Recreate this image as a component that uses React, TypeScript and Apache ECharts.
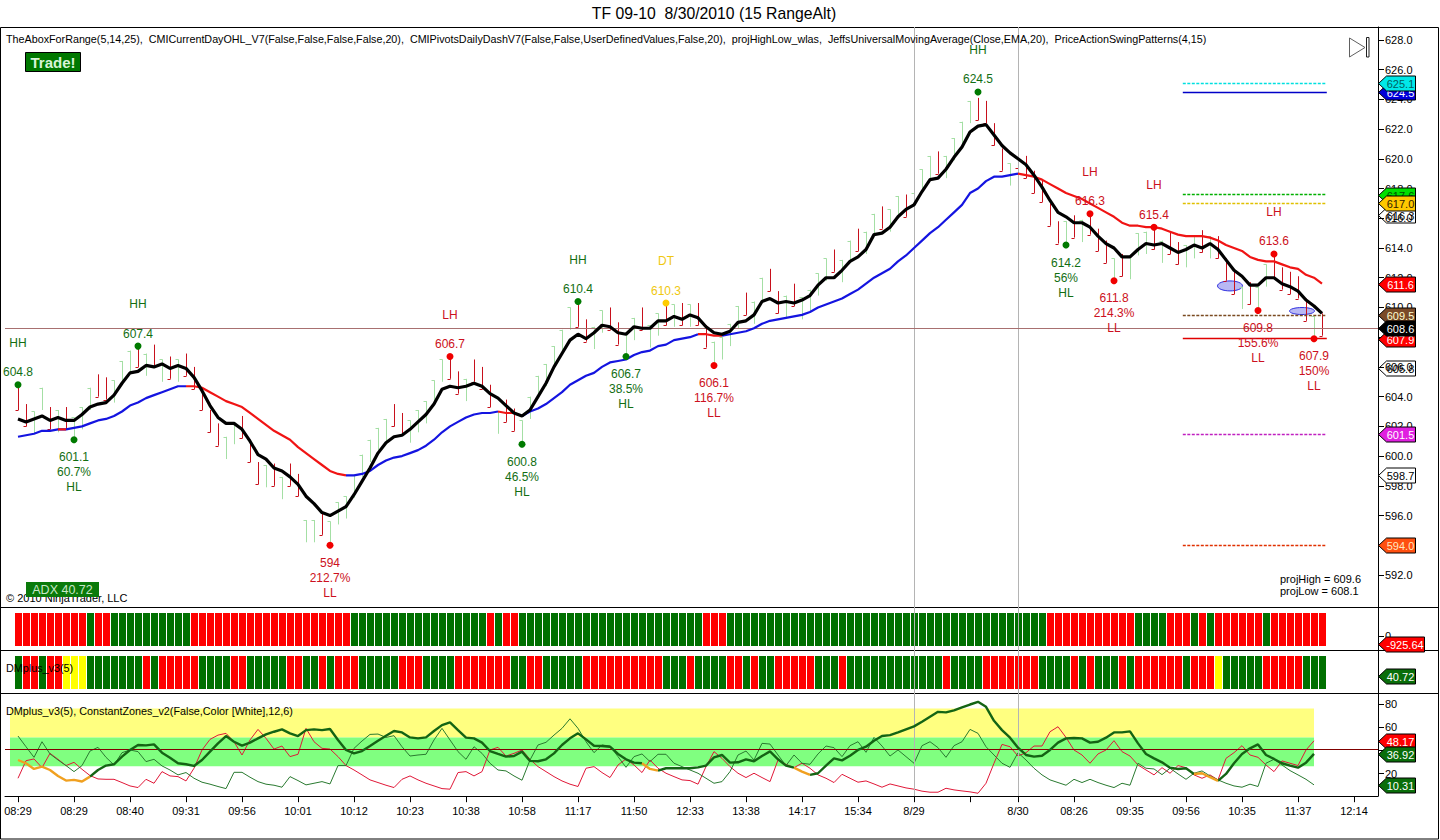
import React, { useEffect, useRef } from "react";
import * as echarts from "echarts";

// ---------- data ----------
const barHighs = [
  604.6,603.5,603.0,604.6,603.3,603.1,603.3,602.6,603.3,604.6,
  605.5,605.3,605.1,606.4,607.1,607.5,606.9,607.5,606.5,606.7,
  606.5,606.9,606.0,604.6,603.1,602.2,601.3,602.3,602.7,601.1,
  599.6,599.4,599.5,598.6,599.5,598.8,595.7,595.7,596.2,595.6,
  596.9,597.3,598.7,600.1,601.1,601.9,602.5,603.5,602.9,602.4,
  603.1,603.7,605.1,606.5,606.7,605.7,605.2,606.5,606.0,604.8,
  603.0,603.8,603.2,602.4,604.0,605.4,606.2,607.4,608.5,610.0,
  610.2,609.2,608.7,609.8,610.0,609.0,608.2,609.3,610.0,608.8,
  609.6,610.3,610.2,610.3,610.2,610.3,608.8,607.7,608.0,608.9,
  610.1,611.0,610.4,612.0,612.6,611.1,610.8,611.6,610.7,611.2,
  612.3,613.3,613.9,613.2,614.5,615.3,615.1,616.3,616.8,616.6,
  617.5,617.6,617.7,619.3,620.2,620.5,620.2,621.4,622.5,623.9,
  624.1,623.9,622.4,620.7,619.7,620.9,620.2,619.2,618.6,617.0,
  615.8,615.8,616.2,615.9,616.4,615.3,614.5,613.3,613.6,613.4,
  615.0,615.1,615.4,614.5,615.1,614.4,614.2,614.8,615.2,614.8,
  614.8,613.3,612.4,611.4,611.7,611.4,612.9,613.5,612.7,612.4,
  612.1,610.6,609.4,609.6,
];
const barDirs =
  "RRGGRGRGGG" + "RRGGGRGRGR" + "GRRRRRGGRR" + "RGRGRRGGRG" + "GGGGGGGRRG" +
  "GGGGRRGRRR" + "GRRGGGGGGG" + "RRGGRRGGRG" + "GRGRGRRGGG" + "GRGGRRGRGG" +
  "GGRGGRGGRG" + "GRGGGRGGGG" + "RRRRGRRRRR" + "RGRGRRRGRG" + "GGRGRRGGRG" +
  "RRRGRGGRRR" + "RRGR";
const barRange = 1.5;

const fastAverage = [
  602.5,602.3,602.5,602.7,602.4,602.6,602.4,602.4,602.8,603.3,
  603.5,603.6,604.1,604.9,605.6,605.7,606.1,606.0,606.2,605.9,
  606.1,605.9,605.3,604.4,603.4,602.6,602.2,602.2,601.8,601.0,
  600.1,599.8,599.2,599.0,598.6,598.1,597.3,596.8,596.2,596.0,
  596.3,596.6,597.4,598.3,599.2,600.2,600.9,601.3,601.4,601.8,
  602.3,602.8,603.5,604.5,604.7,604.6,604.7,604.9,604.7,604.2,
  603.9,603.4,602.9,602.7,603.1,604.0,604.9,606.0,606.9,607.8,
  608.2,607.9,608.3,608.8,608.7,608.3,608.2,608.7,608.6,608.6,
  609.1,609.1,609.4,609.2,609.5,609.3,608.7,608.3,608.2,608.4,
  609.0,609.1,609.5,610.4,610.6,610.3,610.4,610.3,610.5,610.8,
  611.5,612.0,612.0,612.5,613.1,613.4,613.9,614.9,615.0,615.4,
  616.1,616.6,616.9,617.8,618.6,618.7,619.3,620.1,620.8,621.8,
  622.2,622.3,621.6,620.9,620.4,620.0,619.6,618.9,618.1,617.2,
  616.4,616.1,615.7,615.7,615.4,614.8,614.3,614.0,613.4,613.4,
  613.9,614.3,614.2,614.3,614.0,613.7,613.9,614.2,614.0,614.3,
  613.9,613.2,612.5,612.1,611.5,611.5,612.0,612.0,611.6,611.4,
  611.1,610.5,610.1,609.6,
];
const slowAverage = [
  601.3,601.4,601.5,601.7,601.7,601.8,601.8,601.9,602.0,602.2,
  602.4,602.5,602.7,603.0,603.4,603.6,603.9,604.1,604.3,604.5,
  604.7,604.7,604.7,604.6,604.3,604.0,603.7,603.5,603.3,602.9,
  602.5,602.1,601.7,601.4,601.1,600.6,600.2,599.8,599.4,599.0,
  598.8,598.7,598.7,598.8,599.0,599.4,599.7,599.9,600.0,600.2,
  600.4,600.7,601.1,601.6,602.0,602.3,602.6,602.8,602.9,602.9,
  603.0,602.9,602.9,602.7,603.0,603.2,603.5,603.9,604.3,604.8,
  605.1,605.4,605.6,606.0,606.3,606.4,606.5,606.8,607.0,607.1,
  607.4,607.5,607.8,607.9,608.0,608.2,608.2,608.1,608.1,608.2,
  608.3,608.4,608.6,608.9,609.1,609.2,609.3,609.4,609.5,609.7,
  610.0,610.2,610.4,610.6,610.9,611.2,611.6,612.0,612.3,612.6,
  613.1,613.5,614.0,614.5,615.0,615.4,615.9,616.4,616.9,617.7,
  618.0,618.5,618.8,618.8,618.9,619.0,618.9,618.8,618.6,618.3,
  618.0,617.7,617.5,617.3,617.0,616.7,616.4,616.1,615.7,615.5,
  615.5,615.4,615.4,615.3,615.1,614.9,614.8,614.8,614.8,614.7,
  614.5,614.2,614.0,613.8,613.4,613.2,613.1,613.1,612.9,612.7,
  612.6,612.2,612.0,611.6,
];
const slowFallingRanges = [[5, 6], [21, 41], [60, 63], [85, 88], [125, 163]];

const adxValues = [
  31.7,28.9,24.0,26.0,23.1,18.0,14.0,14.6,13.2,17.4,
  23.1,26.9,28.0,34.6,40.3,44.6,44.3,45.1,38.0,33.7,
  28.9,28.0,26.6,31.7,38.9,46.0,52.3,47.4,44.0,46.6,
  50.3,53.7,56.0,58.0,54.6,52.3,57.4,58.0,57.4,58.3,
  48.9,40.3,37.4,39.4,43.7,48.3,52.6,56.6,55.4,51.1,
  50.3,51.1,56.6,61.7,64.0,57.4,50.9,50.3,46.6,39.4,
  36.9,34.6,35.1,38.9,30.9,30.6,32.3,37.4,44.6,50.3,
  54.6,49.4,44.0,43.7,43.1,36.9,32.3,29.4,28.9,24.0,
  22.6,24.6,24.6,24.6,24.6,25.4,26.9,34.0,36.0,29.4,
  29.7,32.3,30.6,35.1,39.1,32.3,26.9,25.1,21.7,18.9,
  20.3,26.9,33.1,31.4,35.4,40.3,43.1,48.3,52.3,53.1,
  55.4,58.0,60.6,64.6,68.9,73.1,72.6,74.3,76.9,79.4,
  81.7,77.4,65.4,57.4,50.9,42.3,36.0,34.6,35.4,40.3,
  46.6,50.3,50.6,50.3,46.6,47.4,50.9,55.4,55.4,56.3,
  46.0,36.9,33.1,29.7,25.1,24.0,24.6,19.7,20.3,16.9,
  13.7,19.7,28.9,36.9,41.7,45.1,36.0,32.6,28.9,26.9,
  25.1,29.4,36.92,
];
const adxWeakRanges = [[0, 9], [78, 80], [97, 99], [147, 150]];
const diPlusValues = [
  52.3,43.1,34.0,47.4,36.9,31.7,26.9,21.7,26.9,39.4,
  42.6,34.0,27.4,38.0,40.3,38.9,30.3,32.3,26.6,23.1,
  18.9,20.9,16.0,12.6,10.9,8.9,7.1,21.1,21.1,16.9,
  13.1,10.9,10.0,8.3,17.4,14.0,10.3,11.7,13.1,11.1,
  26.9,26.9,41.7,48.0,53.7,54.0,51.1,52.6,43.1,35.1,
  36.0,36.6,48.9,58.9,48.9,38.9,32.3,43.1,37.4,28.9,
  23.1,22.3,18.0,14.3,31.7,44.6,46.9,53.1,58.9,67.1,
  58.9,47.4,38.0,44.6,43.7,34.6,25.4,34.6,36.9,30.3,
  36.6,36.6,28.9,26.0,23.1,20.3,16.0,11.7,13.1,21.7,
  36.0,39.4,31.7,46.0,45.4,36.0,26.9,36.0,28.9,28.0,
  36.9,43.7,42.3,34.6,44.0,47.4,38.3,51.1,43.7,35.1,
  40.3,34.6,28.9,44.0,47.4,42.3,34.0,44.0,47.4,58.0,
  54.6,43.1,36.0,28.9,25.4,38.0,31.7,24.6,18.9,14.6,
  12.3,10.0,15.1,12.3,15.1,12.3,10.0,8.0,11.7,10.0,
  28.9,24.6,24.0,19.1,24.6,19.7,15.1,20.3,22.3,18.0,
  14.6,11.7,9.4,8.3,10.9,8.9,28.9,32.3,27.4,22.6,
  18.9,15.1,10.31,
];
const diMinusValues = [
  16.0,31.1,32.6,25.1,37.4,32.3,26.9,29.7,23.7,18.3,
  15.4,15.1,15.1,12.3,9.4,8.0,15.1,11.7,21.7,18.0,
  17.4,13.7,24.6,40.3,49.4,53.1,54.6,47.4,36.0,48.9,
  58.0,50.3,41.1,43.7,34.6,36.6,58.9,47.4,41.7,41.1,
  34.6,26.9,23.1,18.9,14.6,12.3,10.0,8.0,15.1,18.0,
  14.6,11.7,9.4,7.1,6.6,20.9,21.7,18.0,21.7,40.3,
  42.6,35.1,37.4,40.3,32.3,26.0,21.7,17.4,13.7,10.9,
  8.9,24.6,26.0,20.9,16.6,27.4,32.6,27.4,20.9,31.7,
  24.6,20.3,17.4,14.6,14.0,10.9,26.0,38.9,33.1,26.0,
  20.3,16.6,20.3,16.6,13.1,31.7,28.0,25.1,28.9,24.6,
  18.9,16.0,12.3,19.4,16.0,12.6,13.7,11.1,8.3,11.1,
  9.4,7.7,6.6,4.9,4.0,4.0,7.4,6.0,5.1,4.3,
  3.1,11.7,28.9,45.1,43.1,35.1,38.0,43.7,43.7,56.0,
  60.3,51.1,40.3,36.0,28.9,36.9,40.3,48.3,38.9,35.1,
  27.4,23.1,18.9,25.1,20.3,26.9,25.1,18.9,16.0,18.9,
  14.6,33.1,38.0,44.0,36.0,34.0,27.4,21.7,30.9,28.9,
  26.9,40.3,48.17,
];

// [colour key, run length]
const strip1Runs: [string, number][] = [
  ["R",9],["G",1],["R",2],["G",10],["R",20],["G",17],["R",1],["G",1],["R",2],["G",23],
  ["R",3],["G",40],["R",11],["G",4],["R",3],["G",1],["R",1],["G",1],["R",6],["G",1],["R",7],
];
const strip2Runs: [string, number][] = [
  ["G",1],["R",2],["G",1],["R",2],["Y",3],["G",7],["R",1],["G",1],["R",5],["G",4],["R",2],
  ["G",5],["R",2],["G",2],["R",1],["G",1],["R",3],["G",5],["R",3],["G",4],["R",7],["G",2],
  ["R",2],["G",5],["R",10],["G",3],["R",1],["G",4],["R",2],["G",1],["R",1],["G",2],["R",5],
  ["G",3],["R",1],["G",12],["R",1],["G",4],["R",7],["G",4],["R",1],["G",1],["R",1],["G",3],
  ["R",1],["G",1],["R",6],["G",1],["R",3],["Y",1],["G",5],["R",5],["G",3],
];

// swing points: bar index, price, colour key, texts (price first)
const swingPoints: [number, number, string, string[]][] = [
  [0, 604.8, "up", ["604.8", "HH"]],
  [7, 601.1, "up", ["601.1", "60.7%", "HL"]],
  [15, 607.4, "up", ["607.4", "HH"]],
  [39, 594.0, "down", ["594", "212.7%", "LL"]],
  [54, 606.7, "down", ["606.7", "LH"]],
  [63, 600.8, "up", ["600.8", "46.5%", "HL"]],
  [70, 610.4, "up", ["610.4", "HH"]],
  [76, 606.7, "up", ["606.7", "38.5%", "HL"]],
  [81, 610.3, "flat", ["610.3", "DT"]],
  [87, 606.1, "down", ["606.1", "116.7%", "LL"]],
  [120, 624.5, "up", ["624.5", "HH"]],
  [131, 614.2, "up", ["614.2", "56%", "HL"]],
  [134, 616.3, "down", ["616.3", "LH"]],
  [137, 611.8, "down", ["611.8", "214.3%", "LL"]],
  [142, 615.4, "down", ["615.4", "LH"]],
  [155, 609.8, "down", ["609.8", "155.6%", "LL"]],
  [157, 613.6, "down", ["613.6", "LH"]],
  [162, 607.9, "down", ["607.9", "150%", "LL"]],
];

const xTickIndices = [0,7,14,21,28,35,42,49,56,63,70,77,84,91,98,105,112,119,125,132,139,146,153,160,167];
const xTickLabels = ["08:29","08:29","08:40","09:31","09:56","10:01","10:12","10:23","10:38","10:58","11:17","11:50","12:33","13:38","14:17","15:34","8/29","","8/30","08:26","09:35","09:56","10:35","11:37","12:14"];
const sessionBreaks = [112, 125];

const priceTicks = [592,594,596,598,600,602,604,606,608,610,612,614,616,618,620,622,624,626,628];
const oscTicks = [20, 40, 60, 80];

const lastPrice = 608.6;
const projLevels: [number, string, string][] = [
  [625.1, "#00e0e0", "dashed"],
  [624.5, "#0000c8", "solid"],
  [617.6, "#00b000", "dashed"],
  [617.0, "#e0c000", "dashed"],
  [609.5, "#7a4a20", "dashed"],
  [607.9, "#e00000", "solid"],
  [601.5, "#c020c0", "dashed"],
  [594.0, "#e03000", "dashed"],
];
const projSpan = [145.6, 163.6];
const ellipses: [number, number, number, number][] = [
  [151.5, 611.45, 12.5, 5],
  [160.5, 609.76, 12.5, 3.5],
];

// [value, text, background, text colour]
const priceFlags: [number, string, string, string][] = [
  [624.5, "624.5", "#0000d8", "#ffffff"],
  [625.1, "625.1", "#00e8e8", "#006060"],
  [616.2, "616.3", "none", "#000000"],
  [617.6, "617.6", "#00e000", "#005000"],
  [617.0, "617.0", "#ffc800", "#302000"],
  [611.6, "611.6", "#ff0000", "#ffffff"],
  [609.5, "609.5", "#7a4a28", "#ffffd0"],
  [607.9, "607.9", "#ff0000", "#ffffff"],
  [608.6, "608.6", "#000000", "#ffffff"],
  [605.9, "605.8", "none", "#000000"],
  [601.5, "601.5", "#e020e0", "#ffffff"],
  [598.7, "598.7", "#ffffff", "#000000"],
  [594.0, "594.0", "#ff5010", "#ffe8c0"],
];
const strip1Flags: [number, string, string, string][] = [[-925.64, "-925.64", "#ff0000", "#ffffff"]];
const strip2Flags: [number, string, string, string][] = [[40.72, "40.72", "#0a6e0a", "#ffffff"]];
const oscFlags: [number, string, string, string][] = [
  [48.17, "48.17", "#ff0000", "#ffffff"],
  [36.92, "36.92", "#0a6e0a", "#ffffff"],
  [10.31, "10.31", "#0a6e0a", "#ffffff"],
];
const oscZones: [number, number, string][] = [
  [51, 76, "#ffff80"],
  [26.4, 51, "#80ff80"],
];
const oscLine = 41;

const indicatorLine =
  "TheAboxForRange(5,14,25),  CMICurrentDayOHL_V7(False,False,False,False,20),  CMIPivotsDailyDashV7(False,False,UserDefinedValues,False,20),  projHighLow_wlas,  JeffsUniversalMovingAverage(Close,EMA,20),  PriceActionSwingPatterns(4,15)";

// ---------- styling ----------
const FONT = '"Liberation Sans", Arial, sans-serif';
const swingColors: Record<string, { dot: string; text: string }> = {
  up: { dot: "#007a00", text: "#126e12" },
  down: { dot: "#f00000", text: "#cc1020" },
  flat: { dot: "#ffcc00", text: "#f0c810" },
};
const stripColors: Record<string, string> = { R: "#ff0000", G: "#007000", Y: "#ffff00" };

const X_MIN = -1.625;
const X_MAX = 170;
const GRID_LEFT = 5;
const GRID_WIDTH = 1373;

function expandRuns(runs: [string, number][]) {
  const out: string[] = [];
  runs.forEach(([k, n]) => { for (let j = 0; j < n; j++) out.push(k); });
  return out;
}
// keep a value inside the ranges (ends included), or outside them (ends shared so segments join)
function maskRanges(values: number[], ranges: number[][], inside: boolean) {
  return values.map((v, i) => {
    const keep = inside
      ? ranges.some(([a, b]) => i >= a && i <= b)
      : !ranges.some(([a, b]) => i > a && i < b);
    return [i, keep ? v : null];
  });
}
function flagSeries(name: string, grid: number, flags: [number, string, string, string][]) {
  return {
    type: "custom",
    name,
    xAxisIndex: grid,
    yAxisIndex: grid,
    z: 20,
    silent: true,
    data: flags.map((f) => [X_MAX, f[0]]),
    renderItem: (params: any, api: any) => {
      const f = flags[params.dataIndex];
      const p = api.coord([X_MAX, f[0]]);
      const x = Math.round(p[0]) + 0.5;
      const y = Math.round(p[1]) + 0.5;
      const w = f[1].length > 5 ? 46 : 37;
      return {
        type: "group",
        children: [
          {
            type: "polygon",
            shape: { points: [[x, y], [x + 8, y - 7.5], [x + w, y - 7.5], [x + w, y + 7.5], [x + 8, y + 7.5]] },
            style: { fill: f[2], stroke: "#000000", lineWidth: 1 },
          },
          {
            type: "text",
            x: x + 8 + (w - 8) / 2 - 0.5,
            y,
            style: { text: f[1], fill: f[3], font: `11px ${FONT}`, align: "center", verticalAlign: "middle" },
          },
        ],
      };
    },
  };
}
function stripSeries(name: string, grid: number, colors: string[]) {
  return {
    type: "custom",
    name,
    xAxisIndex: grid,
    yAxisIndex: grid,
    silent: true,
    z: 3,
    data: colors.map((_, i) => [i, 0]),
    renderItem: (params: any, api: any) => {
      const x = api.coord([api.value(0), 0])[0];
      const cs = params.coordSys;
      return {
        type: "rect",
        shape: { x: x - 3, y: cs.y, width: 7, height: cs.height },
        style: { fill: stripColors[colors[params.dataIndex]] },
      };
    },
  };
}

function buildOption() {
  const xBase = { type: "value", min: X_MIN, max: X_MAX, show: false };
  const gridBox = (top: number, height: number) => ({ left: GRID_LEFT, width: GRID_WIDTH, top, height, containLabel: false });
  const labelBase = { color: "#000000", fontFamily: FONT, fontSize: 11, margin: 7 };
  const hiddenLine = { show: false, onZero: false };

  const swingTextSeries = {
    type: "custom",
    name: "swing labels",
    xAxisIndex: 0,
    yAxisIndex: 0,
    silent: true,
    z: 12,
    data: swingPoints.map((s) => [s[0], s[1]]),
    renderItem: (params: any, api: any) => {
      const s = swingPoints[params.dataIndex];
      const p = api.coord([s[0], s[1]]);
      const color = swingColors[s[2]].text;
      const above = s[3].length === 2;
      const offsets = above ? [-12.5, -42] : [17.5, 32.5, 47.5];
      return {
        type: "group",
        children: s[3].map((t, j) => ({
          type: "text",
          x: Math.round(p[0]),
          y: p[1] + offsets[j],
          style: { text: t, fill: color, font: `12px ${FONT}`, align: "center", verticalAlign: "middle" },
        })),
      };
    },
  };

  return {
    animation: false,
    backgroundColor: "#ffffff",
    grid: [gridBox(27, 579.2), gridBox(613, 33), gridBox(656, 33), gridBox(693.5, 102.7), gridBox(27, 769)],
    xAxis: [
      { ...xBase, gridIndex: 0 },
      { ...xBase, gridIndex: 1 },
      { ...xBase, gridIndex: 2 },
      {
        type: "value",
        gridIndex: 3,
        min: X_MIN,
        max: X_MAX,
        position: "bottom",
        splitLine: { show: false },
        axisLine: { show: true, onZero: false, lineStyle: { color: "#000000", width: 1 } },
        axisTick: { show: true, length: 6, customValues: xTickIndices, lineStyle: { color: "#000000" } },
        axisLabel: {
          ...labelBase,
          margin: 9,
          customValues: xTickIndices,
          showMinLabel: true,
          showMaxLabel: true,
          hideOverlap: false,
          formatter: (v: number) => xTickLabels[xTickIndices.indexOf(Math.round(v))] ?? "",
        },
      },
      { ...xBase, gridIndex: 4 },
    ],
    yAxis: [
      {
        type: "value",
        gridIndex: 0,
        position: "right",
        min: 589.9,
        max: 628.87,
        splitLine: { show: false },
        axisLine: hiddenLine,
        axisTick: { show: true, length: 6, customValues: priceTicks, lineStyle: { color: "#000000" } },
        axisLabel: { ...labelBase, customValues: priceTicks, formatter: (v: number) => v.toFixed(1) },
      },
      {
        type: "value",
        gridIndex: 1,
        position: "right",
        min: -1222,
        max: 3020,
        splitLine: { show: false },
        axisLine: hiddenLine,
        axisTick: { show: true, length: 6, customValues: [0], lineStyle: { color: "#000000" } },
        axisLabel: { ...labelBase, customValues: [0], formatter: (v: number) => String(Math.round(v)) },
      },
      { type: "value", gridIndex: 2, position: "right", min: 0, max: 100, show: false, axisLine: hiddenLine },
      {
        type: "value",
        gridIndex: 3,
        position: "right",
        min: 0.57,
        max: 88.86,
        splitLine: { show: false },
        axisLine: hiddenLine,
        axisTick: { show: true, length: 6, customValues: oscTicks, lineStyle: { color: "#000000" } },
        axisLabel: { ...labelBase, customValues: oscTicks, formatter: (v: number) => String(Math.round(v)) },
      },
      {
        type: "value",
        gridIndex: 4,
        position: "right",
        min: 0,
        max: 1,
        splitLine: { show: false },
        axisTick: { show: false },
        axisLabel: { show: false },
        axisLine: { show: true, onZero: false, lineStyle: { color: "#000000", width: 1 } },
      },
    ],
    series: [
      // session dividers across all panels
      {
        type: "line",
        name: "session breaks",
        xAxisIndex: 4,
        yAxisIndex: 4,
        z: 1,
        silent: true,
        showSymbol: false,
        lineStyle: { opacity: 0 },
        data: sessionBreaks.map((b) => [b, 0]),
        markLine: {
          symbol: "none",
          silent: true,
          label: { show: false },
          lineStyle: { color: "#b4b4b4", width: 1, type: "solid" },
          data: sessionBreaks.map((b) => ({ xAxis: b })),
        },
      },
      // price panel
      {
        type: "custom",
        name: "range bars",
        xAxisIndex: 0,
        yAxisIndex: 0,
        z: 4,
        silent: true,
        data: barHighs.map((h, i) => [i, h]),
        renderItem: (params: any, api: any) => {
          const i = params.dataIndex;
          const up = barDirs[i] === "G";
          const high = barHighs[i];
          const low = high - barRange;
          const color = up ? "#a4dfa4" : "#c8101c";
          const top = api.coord([i, high]);
          const bottom = api.coord([i, low]);
          const x = Math.round(top[0]) + 0.5;
          const yClose = Math.round(up ? top[1] : bottom[1]) + 0.5;
          return {
            type: "group",
            children: [
              { type: "line", shape: { x1: x, y1: top[1], x2: x, y2: bottom[1] }, style: { stroke: color, lineWidth: 1 } },
              { type: "line", shape: { x1: x - 3, y1: yClose, x2: x, y2: yClose }, style: { stroke: color, lineWidth: 1 } },
            ],
          };
        },
      },
      {
        type: "custom",
        name: "ellipses",
        xAxisIndex: 0,
        yAxisIndex: 0,
        z: 3,
        silent: true,
        data: ellipses.map((e) => [e[0], e[1]]),
        renderItem: (params: any, api: any) => {
          const e = ellipses[params.dataIndex];
          const p = api.coord([e[0], e[1]]);
          return {
            type: "ellipse",
            shape: { cx: p[0], cy: p[1], rx: e[2], ry: e[3] },
            style: { fill: "#b8b8f4", stroke: "#3030e0", lineWidth: 1 },
          };
        },
      },
      {
        type: "line",
        name: "average rising",
        xAxisIndex: 0,
        yAxisIndex: 0,
        z: 6,
        silent: true,
        showSymbol: false,
        connectNulls: false,
        data: maskRanges(slowAverage, slowFallingRanges, false),
        lineStyle: { color: "#1414e0", width: 2.2 },
        markLine: {
          symbol: "none",
          silent: true,
          label: { show: false },
          data: [
            { yAxis: lastPrice, lineStyle: { color: "#a87070", width: 1, type: "solid" } },
            ...projLevels.map((l) => [
              { coord: [projSpan[0], l[0]], lineStyle: { color: l[1], width: 1.3, type: l[2] === "dashed" ? [3, 1.5] : "solid" } },
              { coord: [projSpan[1], l[0]] },
            ]),
          ],
        },
      },
      {
        type: "line",
        name: "average falling",
        xAxisIndex: 0,
        yAxisIndex: 0,
        z: 6,
        silent: true,
        showSymbol: false,
        data: maskRanges(slowAverage, slowFallingRanges, true),
        lineStyle: { color: "#f01414", width: 2.2 },
      },
      {
        type: "line",
        name: "fast average",
        xAxisIndex: 0,
        yAxisIndex: 0,
        z: 7,
        silent: true,
        showSymbol: false,
        data: fastAverage.map((v, i) => [i, v]),
        lineStyle: { color: "#000000", width: 3.2 },
      },
      {
        type: "scatter",
        name: "swing dots",
        xAxisIndex: 0,
        yAxisIndex: 0,
        z: 10,
        silent: true,
        symbolSize: 7,
        data: swingPoints.map((s) => ({ value: [s[0], s[1]], itemStyle: { color: swingColors[s[2]].dot, opacity: 1 } })),
      },
      swingTextSeries,
      flagSeries("price flags", 0, priceFlags),
      // strips
      stripSeries("strip 1", 1, expandRuns(strip1Runs)),
      flagSeries("strip 1 flag", 1, strip1Flags),
      stripSeries("strip 2", 2, expandRuns(strip2Runs)),
      flagSeries("strip 2 flag", 2, strip2Flags),
      // oscillator panel
      {
        type: "line",
        name: "zones",
        xAxisIndex: 3,
        yAxisIndex: 3,
        z: 1,
        silent: true,
        showSymbol: false,
        lineStyle: { opacity: 0 },
        data: oscZones.map((z) => [-1, z[0]]),
        markArea: {
          silent: true,
          data: oscZones.map((z) => [
            { coord: [-1, z[1]], itemStyle: { color: z[2], opacity: 1 } },
            { coord: [162, z[0]] },
          ]),
        },
      },
      {
        type: "line",
        name: "DI minus",
        xAxisIndex: 3,
        yAxisIndex: 3,
        z: 4,
        silent: true,
        showSymbol: false,
        data: diMinusValues.map((v, i) => [i, v]),
        lineStyle: { color: "#e01838", width: 1 },
      },
      {
        type: "line",
        name: "DI plus",
        xAxisIndex: 3,
        yAxisIndex: 3,
        z: 4,
        silent: true,
        showSymbol: false,
        data: diPlusValues.map((v, i) => [i, v]),
        lineStyle: { color: "#2a7a30", width: 1 },
        markLine: {
          symbol: "none",
          silent: true,
          label: { show: false },
          lineStyle: { color: "#800000", width: 1, type: "solid" },
          data: [{ yAxis: oscLine }],
        },
      },
      {
        type: "line",
        name: "ADX",
        xAxisIndex: 3,
        yAxisIndex: 3,
        z: 5,
        silent: true,
        showSymbol: false,
        data: maskRanges(adxValues, adxWeakRanges, false),
        lineStyle: { color: "#146414", width: 2.4 },
      },
      {
        type: "line",
        name: "ADX weak",
        xAxisIndex: 3,
        yAxisIndex: 3,
        z: 5,
        silent: true,
        showSymbol: false,
        data: maskRanges(adxValues, adxWeakRanges, true),
        lineStyle: { color: "#f0a020", width: 2.4 },
      },
      flagSeries("oscillator flags", 3, oscFlags),
    ],
    graphic: {
      elements: [
        { type: "rect", z: 0, silent: true, shape: { x: 0.5, y: 27.5, width: 1438, height: 811.5 }, style: { fill: "none", stroke: "#000000", lineWidth: 1 } },
        { type: "line", z: 0, silent: true, shape: { x1: 0, y1: 607.5, x2: 1439, y2: 607.5 }, style: { stroke: "#000000", lineWidth: 1 } },
        { type: "line", z: 0, silent: true, shape: { x1: 0, y1: 650.5, x2: 1439, y2: 650.5 }, style: { stroke: "#000000", lineWidth: 1 } },
        { type: "line", z: 0, silent: true, shape: { x1: 0, y1: 693.5, x2: 1439, y2: 693.5 }, style: { stroke: "#000000", lineWidth: 1 } },
        { type: "text", z: 50, silent: true, x: 714, y: 13, style: { text: "TF 09-10  8/30/2010 (15 RangeAlt)", fill: "#000000", font: `15.75px ${FONT}`, align: "center", verticalAlign: "middle" } },
        { type: "text", z: 50, silent: true, x: 6, y: 39, style: { text: indicatorLine, fill: "#000000", font: `10.75px ${FONT}`, verticalAlign: "middle" } },
        { type: "rect", z: 50, silent: true, shape: { x: 25.5, y: 52.5, width: 55, height: 19 }, style: { fill: "#007800", stroke: "#000000", lineWidth: 1 } },
        { type: "text", z: 51, silent: true, x: 53, y: 62, style: { text: "Trade!", fill: "#d8f4d8", font: `bold 15px ${FONT}`, align: "center", verticalAlign: "middle" } },
        { type: "polygon", z: 50, silent: true, shape: { points: [[1349.5, 38], [1349.5, 57], [1365, 47.5]] }, style: { fill: "#ffffff", stroke: "#606060", lineWidth: 1 } },
        { type: "rect", z: 50, silent: true, shape: { x: 1366.5, y: 37.5, width: 2.5, height: 19.5 }, style: { fill: "#ffffff", stroke: "#202020", lineWidth: 1 } },
        { type: "text", z: 50, silent: true, x: 6, y: 598, style: { text: "© 2010 NinjaTrader, LLC", fill: "#000000", font: `11px ${FONT}`, verticalAlign: "middle" } },
        { type: "rect", z: 51, silent: true, shape: { x: 26, y: 582, width: 73, height: 15 }, style: { fill: "#0a7a0a" } },
        { type: "text", z: 52, silent: true, x: 62.5, y: 589.5, style: { text: "ADX 40.72", fill: "#c8e8c8", font: `12.5px ${FONT}`, align: "center", verticalAlign: "middle" } },
        { type: "text", z: 50, silent: true, x: 1280, y: 579, style: { text: "projHigh = 609.6", fill: "#000000", font: `11px ${FONT}`, verticalAlign: "middle" } },
        { type: "text", z: 50, silent: true, x: 1280, y: 591, style: { text: "projLow = 608.1", fill: "#000000", font: `11px ${FONT}`, verticalAlign: "middle" } },
        { type: "text", z: 50, silent: true, x: 6, y: 668, style: { text: "DMplus_v3(5)", fill: "#000000", font: `10.8px ${FONT}`, verticalAlign: "middle" } },
        { type: "text", z: 50, silent: true, x: 6, y: 711, style: { text: "DMplus_v3(5), ConstantZones_v2(False,Color [White],12,6)", fill: "#000000", font: `10.8px ${FONT}`, verticalAlign: "middle" } },
      ],
    },
  };
}

export default function App() {
  const ref = useRef<HTMLDivElement>(null);
  useEffect(() => {
    if (!ref.current) return;
    const chart = echarts.init(ref.current, undefined, { renderer: "svg" });
    chart.setOption(buildOption() as any);
    return () => chart.dispose();
  }, []);
  return <div ref={ref} style={{ position: "fixed", left: 0, top: 0, width: 1440, height: 840 }} />;
}
